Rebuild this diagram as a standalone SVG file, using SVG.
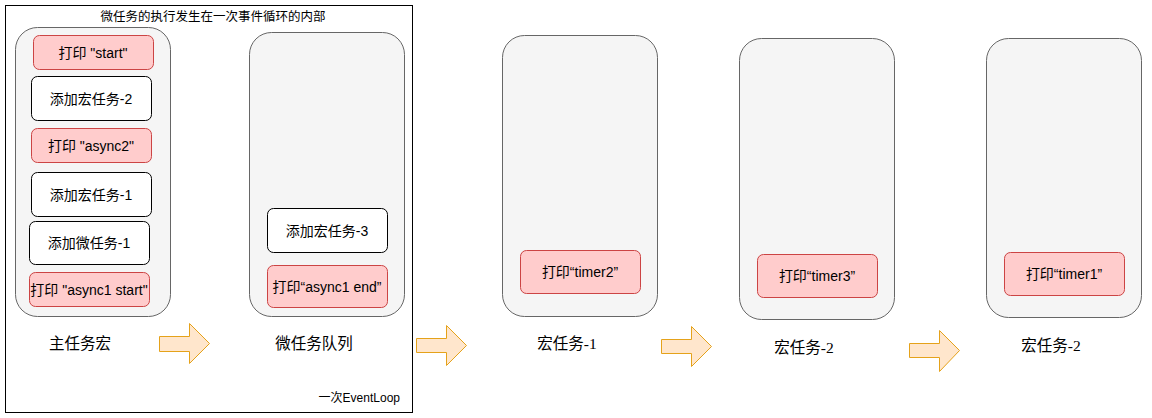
<svg xmlns="http://www.w3.org/2000/svg" width="1152" height="418" viewBox="0 0 1152 418">
<style>
.frame{fill:#ffffff;stroke:#000000;stroke-width:1}
.cont{fill:#f5f5f5;stroke:#666666;stroke-width:1}
.wbox{fill:#ffffff;stroke:#000000;stroke-width:1}
.rbox{fill:#ffcccc;stroke:#cc4444;stroke-width:1}
.arrow{fill:#ffe6cc;stroke:#e5a21a;stroke-width:1}
text{font-family:"Liberation Sans","Noto Sans CJK SC",sans-serif;fill:#000000;text-anchor:middle;dominant-baseline:central}
.t14{font-size:14px}
.lbl{font-size:15.5px}
.ser{font-family:"Liberation Serif","Noto Sans CJK SC",serif;font-size:15.5px}
.sm{font-size:12.5px}
</style>
<rect width="1152" height="418" fill="#ffffff"/>
<g id="eventloop-frame">
<rect class="frame" x="5.5" y="5.5" width="407" height="407"/>
<text class="sm" x="213" y="17">微任务的执行发生在一次事件循环的内部</text>
<text class="sm" x="400" y="398" style="text-anchor:end;font-size:12px">一次EventLoop</text>
</g>
<g id="main-task">
<rect class="cont" x="15.5" y="27.5" width="155" height="289" rx="22"/>
<text class="lbl" x="80" y="343">主任务宏</text>
</g>
<g id="n-start"><rect class="rbox" x="33.5" y="35.5" width="120" height="34" rx="6"/><text class="t14" x="93" y="52.5">打印 "start"</text></g>
<g id="n-add-macro2"><rect class="wbox" x="31.5" y="76.5" width="120" height="44" rx="6"/><text class="t14" x="91" y="98.5">添加宏任务-2</text></g>
<g id="n-async2"><rect class="rbox" x="31.5" y="128.5" width="120" height="34" rx="6"/><text class="t14" x="91" y="145.5">打印 "async2"</text></g>
<g id="n-add-macro1"><rect class="wbox" x="31.5" y="172.5" width="120" height="44" rx="6"/><text class="t14" x="91" y="194.5">添加宏任务-1</text></g>
<g id="n-add-micro1"><rect class="wbox" x="29.5" y="221.5" width="120" height="43" rx="6"/><text class="t14" x="89" y="243">添加微任务-1</text></g>
<g id="n-async1-start"><rect class="rbox" x="29.5" y="272.5" width="120" height="34" rx="6"/><text class="t14" x="89" y="289.5">打印 "async1 start"</text></g>

<g id="micro-queue">
<rect class="cont" x="249.5" y="32.5" width="155" height="284" rx="22"/>
<text class="lbl" x="314" y="343">微任务队列</text>
</g>
<g id="n-add-macro3"><rect class="wbox" x="267.5" y="208.5" width="120" height="44" rx="6"/><text class="t14" x="327" y="230.5">添加宏任务-3</text></g>
<g id="n-async1-end"><rect class="rbox" x="267.5" y="265.5" width="120" height="42" rx="6"/><text class="t14" x="327" y="286.5">打印“async1 end”</text></g>

<g id="macro1">
<rect class="cont" x="502.5" y="35.5" width="155" height="281" rx="22"/>
<text class="ser" x="567" y="343">宏任务-1</text>
</g>
<g id="n-timer2"><rect class="rbox" x="520.5" y="250.5" width="120" height="43" rx="6"/><text class="t14" x="580" y="272">打印“timer2”</text></g>

<g id="macro2a">
<rect class="cont" x="739.5" y="38.5" width="155" height="281" rx="22"/>
<text class="ser" x="804" y="347">宏任务-2</text>
</g>
<g id="n-timer3"><rect class="rbox" x="757.5" y="254.5" width="120" height="43" rx="6"/><text class="t14" x="817" y="276">打印“timer3”</text></g>

<g id="macro2b">
<rect class="cont" x="986.5" y="38.5" width="155" height="279" rx="22"/>
<text class="ser" x="1051" y="345">宏任务-2</text>
</g>
<g id="n-timer1"><rect class="rbox" x="1004.5" y="252.5" width="120" height="43" rx="6"/><text class="t14" x="1064" y="274">打印“timer1”</text></g>

<g id="connectors">
<path class="arrow" d="M159.5,336.5 H189.5 V323.5 L209.5,343.5 L189.5,363.5 V351.5 H159.5 Z"/>
<path class="arrow" d="M416.5,338.5 H446.5 V325.5 L466.5,345.5 L446.5,365.5 V352.5 H416.5 Z"/>
<path class="arrow" d="M661.5,339.5 H691.5 V326.5 L711.5,346.5 L691.5,366.5 V353.5 H661.5 Z"/>
<path class="arrow" d="M909.5,343.5 H939.5 V330.5 L959.5,350.5 L939.5,371.5 V357.5 H909.5 Z"/>
</g>
</svg>
